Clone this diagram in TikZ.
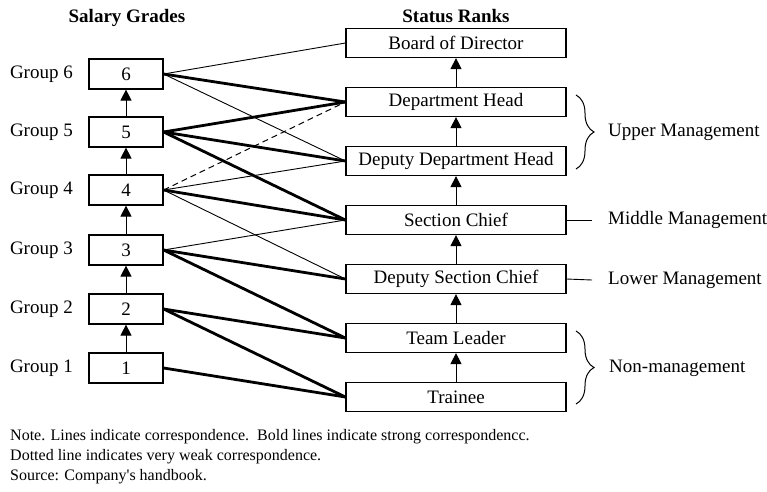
\documentclass[tikz,border=0pt]{standalone}
\usepackage{fontspec}
\setmainfont{Liberation Serif}
\usetikzlibrary{arrows.meta,decorations.pathreplacing}

\begin{document}
\begin{tikzpicture}[
    x=1pt, y=-1pt,
    grade/.style={rectangle, draw, line width=1.2pt, minimum width=74pt, minimum height=30pt, inner sep=0pt, font=\fontsize{19}{22}\selectfont},
    rank/.style={rectangle, draw, line width=1.2pt, minimum width=220pt, minimum height=29pt, inner sep=0pt, font=\fontsize{19}{22}\selectfont},
    grouplbl/.style={anchor=east, inner sep=0pt, font=\fontsize{19}{22}\selectfont},
    side/.style={anchor=west, inner sep=0pt, font=\fontsize{19}{22}\selectfont},
    heading/.style={inner sep=0pt, font=\fontsize{19}{22}\selectfont\bfseries},
    note/.style={anchor=base west, inner sep=0pt, font=\fontsize{16}{19}\selectfont},
    up/.style={-{Triangle[length=11pt,width=11pt]}, line width=1pt},
    weak/.style={line width=0.9pt},
    strong/.style={line width=2.8pt},
    faint/.style={line width=1pt, dash pattern=on 6pt off 4pt},
    brace/.style={decorate, decoration={brace, amplitude=18pt, aspect=0.5}, line width=1pt}
]
\useasboundingbox (0,0) rectangle (767,491);

% headings
\node[heading] (sg) at (127,18) {Salary Grades};
\node[heading] (sr) at (456,16) {Status Ranks};

% salary grades
\node[grade] (g6) at (126,74) {6};
\node[grade] (g5) at (126,132) {5};
\node[grade] (g4) at (126,190) {4};
\node[grade] (g3) at (126,250) {3};
\node[grade] (g2) at (126,309) {2};
\node[grade] (g1) at (126,368) {1};

\node[grouplbl] (l6) at (73,74) {Group 6};
\node[grouplbl] (l5) at (73,132) {Group 5};
\node[grouplbl] (l4) at (73,190) {Group 4};
\node[grouplbl] (l3) at (73,250) {Group 3};
\node[grouplbl] (l2) at (73,309) {Group 2};
\node[grouplbl] (l1) at (73,368) {Group 1};

% status ranks
\node[rank] (board) at (456,43) {Board of Director};
\node[rank] (dh) at (456,102) {Department Head};
\node[rank] (ddh) at (456,161) {Deputy Department Head};
\node[rank] (sc) at (456,220) {Section Chief};
\node[rank] (dsc) at (456,279) {Deputy Section Chief};
\node[rank] (tl) at (456,338) {Team Leader};
\node[rank] (tr) at (456,397) {Trainee};

% upward arrows
\draw[up] (g1) -- (g2);
\draw[up] (g2) -- (g3);
\draw[up] (g3) -- (g4);
\draw[up] (g4) -- (g5);
\draw[up] (g5) -- (g6);
\draw[up] (tr) -- (tl);
\draw[up] (tl) -- (dsc);
\draw[up] (dsc) -- (sc);
\draw[up] (sc) -- (ddh);
\draw[up] (ddh) -- (dh);
\draw[up] (dh) -- (board);

% correspondence
\draw[weak] (g6.east) -- (board.west);
\draw[strong] (g6.east) -- (dh.west);
\draw[weak] (g6.east) -- (ddh.west);
\draw[strong] (g5.east) -- (dh.west);
\draw[strong] (g5.east) -- (ddh.west);
\draw[strong] (g5.east) -- (sc.west);
\draw[faint] (g4.east) -- (dh.west);
\draw[weak] (g4.east) -- (ddh.west);
\draw[strong] (g4.east) -- (sc.west);
\draw[weak] (g4.east) -- (dsc.west);
\draw[weak] (g3.east) -- (sc.west);
\draw[strong] (g3.east) -- (dsc.west);
\draw[strong] (g3.east) -- (tl.west);
\draw[strong] (g2.east) -- (tl.west);
\draw[strong] (g2.east) -- (tr.west);
\draw[strong] (g1.east) -- (tr.west);

% management levels
\draw[brace] (576,95) -- (576,169);
\node[side] (upper) at (608,132) {Upper Management};
\node[side] (middle) at (608,220) {Middle Management};
\draw[weak] (sc.east) -- ([xshift=-16pt]middle.west);
\node[side] (lower) at (608,280) {Lower Management};
\draw[weak] (dsc.east) -- ([xshift=-16pt]lower.west);
\draw[brace] (576,331) -- (576,404);
\node[side] (nonm) at (609,368) {Non-management};

% notes
\node[note] (n1) at (10,440) {Note. Lines indicate correspondence.\ \ Bold lines indicate strong correspondencc.};
\node[note] (n2) at (10,460) {Dotted line indicates very weak correspondence.};
\node[note] (n3) at (10,480) {Source: Company\textquotesingle s handbook.};
\end{tikzpicture}
\end{document}
